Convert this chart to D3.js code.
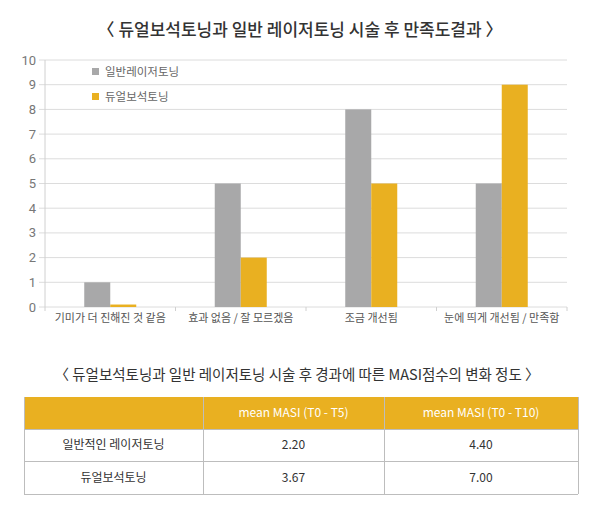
<!DOCTYPE html>
<html>
<head>
<meta charset="utf-8">
<script src="https://cdn.jsdelivr.net/npm/d3@7"></script>
<style>
  body { margin: 0; background: #fff; }
  svg { display: block; font-family: "Noto Sans CJK KR", "Noto Sans", sans-serif; }
</style>
</head>
<body>
<svg id="chart" width="600" height="507"></svg>
<script>
// chart data
var categories = ['기미가 더 진해진 것 같음', '효과 없음 / 잘 모르겠음', '조금 개선됨', '눈에 띄게 개선됨 / 만족함'];
var seriesNames = ['일반레이저토닝', '듀얼보석토닝'];
var laserValues = [1, 5, 8, 5];
var dualValues = [0.1, 2, 5, 9];
var yTicks = [0, 1, 2, 3, 4, 5, 6, 7, 8, 9, 10];

// table data
var tableHeader = ['', 'mean MASI (T0 - T5)', 'mean MASI (T0 - T10)'];
var rowLabels = ['일반적인 레이저토닝', '듀얼보석토닝'];
var masiT5 = ['2.20', '3.67'];
var masiT10 = ['4.40', '7.00'];

var gray = '#a8a8a9';
var yellow = '#e9b021';

var svg = d3.select('#chart');

// titles
svg.append('text')
  .attr('x', 300).attr('y', 36)
  .attr('text-anchor', 'middle')
  .style('font-size', '17px')
  .style('font-weight', '500')
  .style('fill', '#333')
  .text('〈 듀얼보석토닝과 일반 레이저토닝 시술 후 만족도결과 〉');

// scales
var x = d3.scaleBand().domain(categories).range([45, 567]);
var y = d3.scaleLinear().domain([0, 10]).range([307, 60]);
var sub = d3.scaleBand().domain(seriesNames).range([0, 52]);

// grid lines
svg.append('g')
  .selectAll('line')
  .data(yTicks)
  .enter()
  .append('line')
    .attr('x1', 39).attr('x2', 567)
    .attr('y1', function(d) { return y(d); })
    .attr('y2', function(d) { return y(d); })
    .style('stroke', '#dcdcdc');

// y labels
svg.append('g')
  .selectAll('text')
  .data(yTicks)
  .enter()
  .append('text')
    .attr('x', 36)
    .attr('y', function(d) { return y(d) + 4.5; })
    .attr('text-anchor', 'end')
    .style('font-size', '13px')
    .style('fill', '#777')
    .style('font-family', 'Roboto, sans-serif')
    .text(function(d) { return d; });

// y axis line
svg.append('line')
  .attr('x1', 45).attr('x2', 45)
  .attr('y1', 60).attr('y2', 311)
  .style('stroke', '#d0d0d0');

// x axis ticks between categories
svg.append('g')
  .selectAll('line')
  .data(categories)
  .enter()
  .append('line')
    .attr('x1', function(d) { return x(d) + x.bandwidth(); })
    .attr('x2', function(d) { return x(d) + x.bandwidth(); })
    .attr('y1', 307).attr('y2', 311)
    .style('stroke', '#d0d0d0');

// bars
var groups = svg.append('g')
  .selectAll('g')
  .data(categories)
  .enter()
  .append('g')
    .attr('transform', function(d) {
      return 'translate(' + (x(d) + x.bandwidth() / 2 - 26) + ',0)';
    });

groups.append('rect')
  .attr('x', sub(seriesNames[0]))
  .attr('width', sub.bandwidth())
  .attr('y', function(d, i) { return y(laserValues[i]); })
  .attr('height', function(d, i) { return y(0) - y(laserValues[i]); })
  .style('fill', gray);

groups.append('rect')
  .attr('x', sub(seriesNames[1]))
  .attr('width', sub.bandwidth())
  .attr('y', function(d, i) { return y(dualValues[i]); })
  .attr('height', function(d, i) { return y(0) - y(dualValues[i]); })
  .style('fill', yellow);

// x labels
svg.append('g')
  .selectAll('text')
  .data(categories)
  .enter()
  .append('text')
    .attr('x', function(d) { return x(d) + x.bandwidth() / 2; })
    .attr('y', 322)
    .attr('text-anchor', 'middle')
    .style('font-size', '11px')
    .style('fill', '#555')
    .text(function(d) { return d; });

// legend
var legend = svg.append('g')
  .selectAll('g')
  .data(seriesNames)
  .enter()
  .append('g')
    .attr('transform', function(d, i) { return 'translate(92,' + (68 + i * 25) + ')'; });

legend.append('rect')
  .attr('width', 7).attr('height', 7)
  .style('fill', function(d, i) { return i === 0 ? gray : yellow; });

legend.append('text')
  .attr('x', 13).attr('y', 8)
  .style('font-size', '11.5px')
  .style('fill', '#666')
  .text(function(d) { return d; });

// table
svg.append('text')
  .attr('x', 297).attr('y', 380)
  .attr('text-anchor', 'middle')
  .style('font-size', '14.5px')
  .style('fill', '#333')
  .text('〈 듀얼보석토닝과 일반 레이저토닝 시술 후 경과에 따른 MASI점수의 변화 정도 〉');

var colEdges = [24, 203, 384, 578];
var rowEdges = [397, 429, 461, 494];
var rows = [tableHeader].concat(rowLabels.map(function(d, i) {
  return [d, masiT5[i], masiT10[i]];
}));

var table = svg.append('g');

table.append('rect')
  .attr('x', colEdges[0]).attr('y', rowEdges[0])
  .attr('width', colEdges[3] - colEdges[0])
  .attr('height', rowEdges[1] - rowEdges[0])
  .style('fill', yellow);

// horizontal borders
table.selectAll('line.h')
  .data(rowEdges.slice(1))
  .enter()
  .append('line')
    .attr('class', 'h')
    .attr('x1', colEdges[0]).attr('x2', colEdges[3])
    .attr('y1', function(d) { return d + 0.5; })
    .attr('y2', function(d) { return d + 0.5; })
    .style('stroke', '#bdbdbd');

// vertical borders
table.selectAll('line.v')
  .data(colEdges)
  .enter()
  .append('line')
    .attr('class', 'v')
    .attr('x1', function(d) { return d + 0.5; })
    .attr('x2', function(d) { return d + 0.5; })
    .attr('y1', rowEdges[0])
    .attr('y2', rowEdges[3])
    .style('stroke', '#bdbdbd');

rows.forEach(function(r, ri) {
  table.selectAll('text.r' + ri)
    .data(r)
    .enter()
    .append('text')
      .attr('class', 'r' + ri)
      .attr('x', function(d, ci) { return (colEdges[ci] + colEdges[ci + 1]) / 2; })
      .attr('y', (rowEdges[ri] + rowEdges[ri + 1]) / 2 + 4)
      .attr('text-anchor', 'middle')
      .style('font-size', '12px')
      .style('fill', ri === 0 ? '#fff' : '#333')
      .text(function(d) { return d; });
});
</script>
</body>
</html>
